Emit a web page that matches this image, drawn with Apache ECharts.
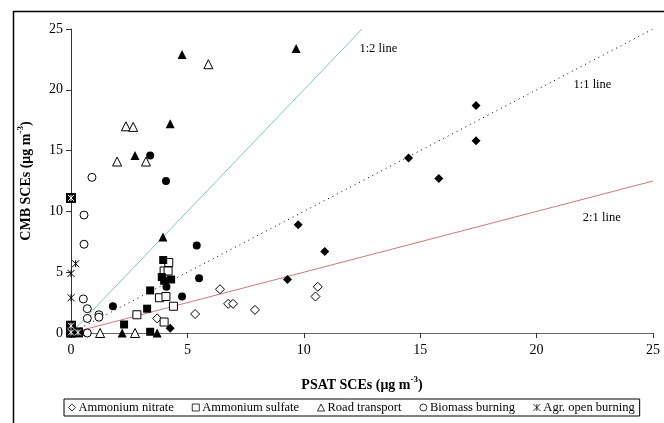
<!DOCTYPE html>
<html>
<head>
<meta charset="utf-8">
<script src="https://cdn.jsdelivr.net/npm/echarts@6/dist/echarts.min.js"></script>
<style>
  html, body { margin: 0; padding: 0; background: #fff; }
  #chart { width: 664px; height: 423px; }
</style>
</head>
<body>
<div id="chart"></div>
<script>
// legend names (open symbols)
var seriesNames = ['Ammonium nitrate', 'Ammonium sulfate', 'Road transport', 'Biomass burning', 'Agr. open burning'];

// [PSAT, CMB] pairs, open symbols
var nitrateOpen = [[3.7, 1.2], [5.33, 1.56], [6.4, 3.6], [6.75, 2.4], [6.96, 2.4], [7.9, 1.9], [10.5, 3.0], [10.6, 3.8]];
var sulfateOpen = [[0, 0], [2.83, 1.5], [3.8, 2.9], [4.0, 5.1], [4.17, 5.1], [4.2, 5.8], [4.08, 3.0], [4.4, 2.2], [4.0, 0.9]];
var roadOpen = [[1.25, 0], [1.98, 14.1], [2.36, 17.0], [2.67, 16.95], [2.75, 0], [3.22, 14.1], [5.9, 22.1]];
var biomassOpen = [[0.53, 2.8], [0.56, 7.3], [0.56, 9.7], [0.7, 2.0], [0.7, 1.2], [0.7, 0], [0.9, 12.8], [1.2, 1.5], [1.2, 1.3]];
var agrOpen = [[0, 2.9], [0, 4.9], [0.2, 5.7], [0, 0], [0.45, 0]];

// filled symbols
var nitrateFilled = [[4.26, 0.4], [9.3, 4.4], [9.76, 8.9], [10.9, 6.7], [14.5, 14.4], [15.8, 12.7], [17.4, 15.8], [17.4, 18.7]];
var sulfateFilled = [[2.28, 0.7], [3.27, 2.0], [3.4, 3.5], [3.4, 0.1], [3.9, 4.6], [3.96, 6.0], [4.0, 4.3], [4.3, 4.4]];
var roadFilled = [[2.2, 0], [2.75, 14.6], [3.7, 0], [3.95, 7.9], [4.26, 17.2], [4.77, 22.9], [9.67, 23.4]];
var biomassFilled = [[1.8, 2.2], [3.4, 14.6], [4.08, 12.5], [4.1, 3.8], [4.77, 3.0], [5.4, 7.2], [5.5, 4.5]];
var agrFilled = [[0, 11.1], [0, 0.6], [0, 0.05], [0.3, 0.05]];

// reference lines
var line11 = [[0, 0], [25, 25]];
var line12 = [[0, 0], [12.5, 25]];
var line21 = [[0, 0], [25, 12.5]];

var font = '"Liberation Serif", "Times New Roman", serif';
var star = 'path://M0,0L10,10M10,0L0,10M5,0L5,10';

function openSeries(name, symbol, size, data) {
    return {
        name: name, type: 'scatter', symbol: symbol, symbolSize: size, data: data, z: 5,
        itemStyle: { color: '#fff', borderColor: '#000', borderWidth: 1, opacity: 1 }
    };
}
function filledSeries(symbol, size, data) {
    return {
        name: 'f-' + symbol, type: 'scatter', symbol: symbol, symbolSize: size, data: data, z: 6,
        itemStyle: { color: '#000', borderColor: '#000', borderWidth: 0, opacity: 1 }
    };
}
function refLine(data, style, label, coord) {
    return {
        type: 'line', data: data, symbol: 'none', silent: true, z: 2,
        lineStyle: style,
        markPoint: {
            symbol: 'circle', symbolSize: 0,
            label: { show: true, formatter: label, color: '#000', fontFamily: font, fontSize: 12.5 },
            data: [{ coord: coord }]
        }
    };
}
var nameStyle = {
    fontFamily: font, fontSize: 14, fontWeight: 'bold', color: '#000', lineHeight: 20,
    rich: { sup: { fontFamily: font, fontSize: 9, fontWeight: 'bold', color: '#000', lineHeight: 10, verticalAlign: 'top' } }
};

var chart = echarts.init(document.getElementById('chart'));
chart.setOption({
    animation: false,
    textStyle: { fontFamily: font },
    graphic: [{
        type: 'rect', shape: { x: 13.5, y: 11.5, width: 700, height: 500 },
        style: { fill: 'none', stroke: '#000', lineWidth: 1.5 }, silent: true
    }],
    grid: { left: 71, right: 11, top: 29, bottom: 90 },
    legend: {
        data: seriesNames,
        left: 64, top: 399,
        itemWidth: 7, itemHeight: 7, itemGap: 18,
        padding: [2, 5, 2, 4],
        borderColor: '#000', borderWidth: 1,
        itemStyle: { borderWidth: 0.8 },
        textStyle: { fontFamily: font, fontSize: 12.5, color: '#000', padding: [0, 0, 0, -2] }
    },
    xAxis: {
        type: 'value', min: 0, max: 25, interval: 5,
        name: 'PSAT SCEs (μg m{sup|-3})', nameLocation: 'middle', nameGap: 42,
        nameTextStyle: nameStyle,
        axisLine: { lineStyle: { color: '#666', width: 1 } },
        axisTick: { show: true, inside: false, length: 5, lineStyle: { color: '#333' } },
        axisLabel: { color: '#000', fontSize: 14, fontFamily: font, margin: 10 },
        splitLine: { show: false }
    },
    yAxis: {
        type: 'value', min: 0, max: 25, interval: 5,
        name: 'CMB SCEs (μg m{sup|-3})', nameLocation: 'middle', nameGap: 35, nameRotate: 90,
        nameTextStyle: nameStyle,
        axisLine: { show: true, lineStyle: { color: '#333', width: 1 } },
        axisTick: { show: true, inside: false, length: 5, lineStyle: { color: '#333' } },
        axisLabel: { color: '#000', fontSize: 14, fontFamily: font, margin: 8 },
        splitLine: { show: false }
    },
    series: [
        refLine(line11, { color: '#000', width: 1, type: [1, 4] }, '1:1 line', [22.4, 20.4]),
        refLine(line12, { color: '#7cc6c8', width: 1 }, '1:2 line', [13.2, 23.4]),
        refLine(line21, { color: '#c87a7a', width: 1 }, '2:1 line', [22.8, 9.45]),
        openSeries(seriesNames[0], 'diamond', 9, nitrateOpen),
        openSeries(seriesNames[1], 'rect', 8, sulfateOpen),
        openSeries(seriesNames[2], 'triangle', 9, roadOpen),
        openSeries(seriesNames[3], 'circle', 8, biomassOpen),
        openSeries(seriesNames[4], star, 7, agrOpen),
        filledSeries('diamond', 9, nitrateFilled),
        filledSeries('rect', 8, sulfateFilled),
        filledSeries('triangle', 9, roadFilled),
        filledSeries('circle', 8, biomassFilled),
        filledSeries('rect', 10, agrFilled),
        {
            name: 'f-star', type: 'scatter', symbol: star, symbolSize: 6, data: agrFilled, z: 7,
            itemStyle: { color: 'none', borderColor: '#fff', borderWidth: 1, opacity: 1 }
        }
    ]
});
</script>
</body>
</html>
